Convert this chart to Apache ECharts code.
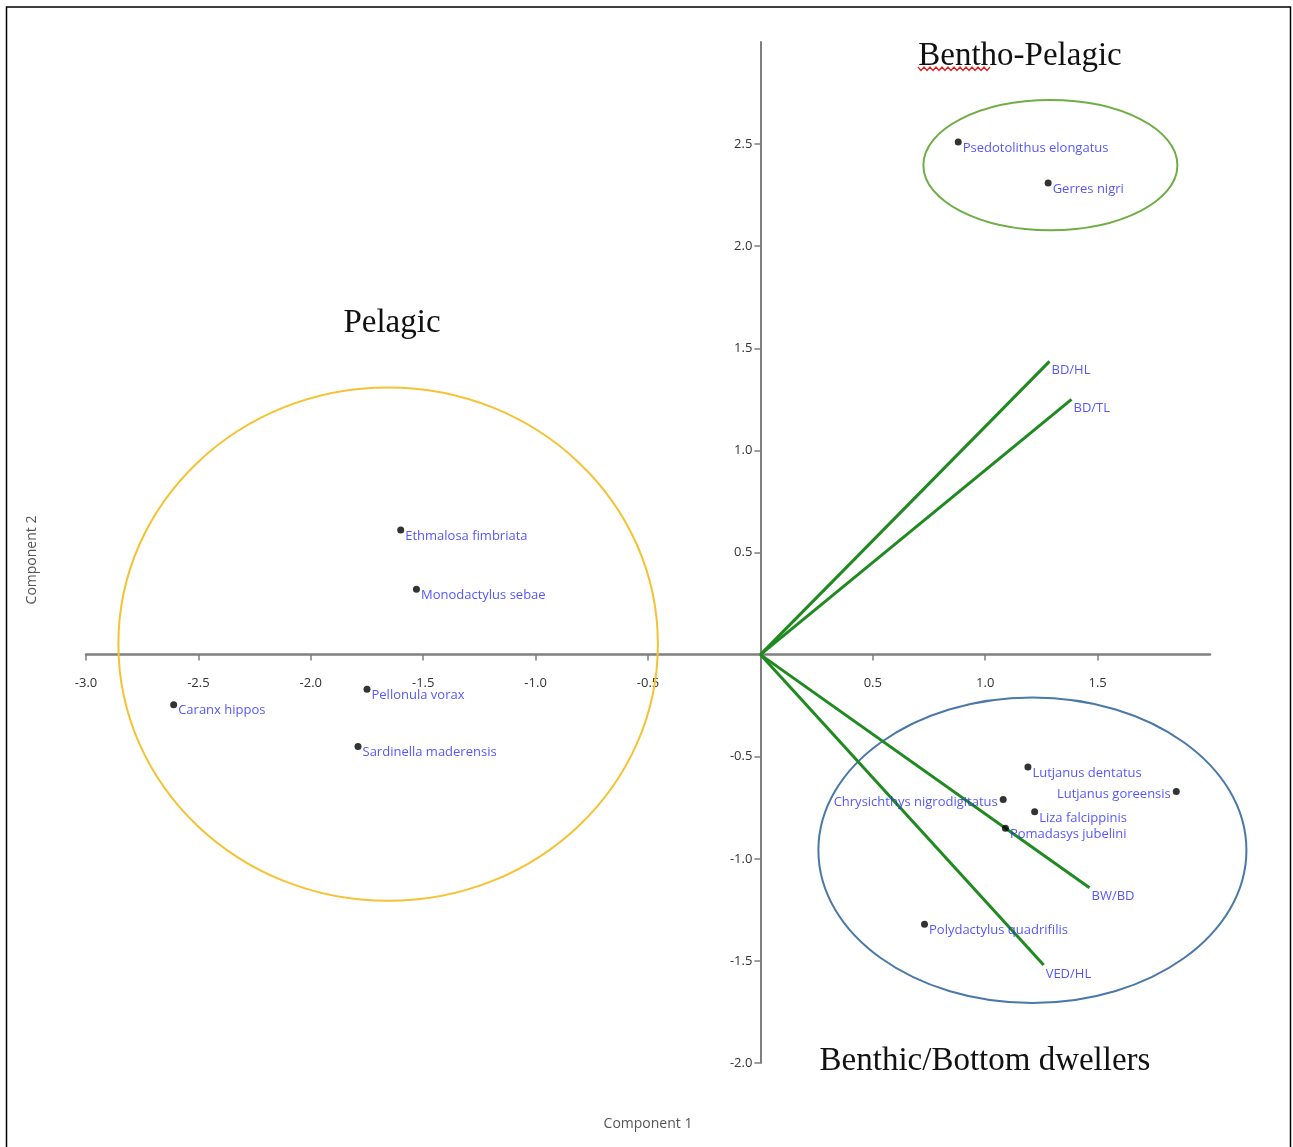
<!DOCTYPE html>
<html>
<head>
<meta charset="utf-8">
<style>
  html, body { margin: 0; padding: 0; background: #ffffff; }
  #chart { width: 1293px; height: 1147px; }
</style>
<script src="https://cdn.jsdelivr.net/npm/echarts@6/dist/echarts.min.js"></script>
</head>
<body>
<div id="chart"></div>
<script>
// Species scores on the first two principal components
const speciesNames = [
  'Psedotolithus elongatus', 'Gerres nigri',
  'Ethmalosa fimbriata', 'Monodactylus sebae', 'Pellonula vorax', 'Caranx hippos', 'Sardinella maderensis',
  'Lutjanus dentatus', 'Lutjanus goreensis', 'Chrysichthys nigrodigitatus', 'Liza falcippinis',
  'Pomadasys jubelini', 'Polydactylus quadrifilis'
];
const speciesPC1 = [0.88, 1.28, -1.60, -1.53, -1.75, -2.61, -1.79, 1.19, 1.85, 1.08, 1.22, 1.09, 0.73];
const speciesPC2 = [2.51, 2.31, 0.61, 0.32, -0.17, -0.245, -0.45, -0.55, -0.67, -0.71, -0.77, -0.85, -1.32];
const labelSide  = ['right', 'right', 'right', 'right', 'right', 'right', 'right', 'right', 'left', 'left', 'right', 'right', 'right'];

// Morphometric variable loadings (biplot vectors from the origin)
const variableNames = ['BD/HL', 'BD/TL', 'BW/BD', 'VED/HL'];
const variablePC1 = [1.286, 1.384, 1.464, 1.26];
const variablePC2 = [1.436, 1.25, -1.142, -1.52];

// Group ellipses: centre and semi-axes in component units
const groupNames = ['Pelagic', 'Bentho-Pelagic', 'Benthic/Bottom dwellers'];
const ellipseCX = [-1.656, 1.29, 1.21];
const ellipseCY = [0.051, 2.397, -0.958];
const ellipseRX = [1.20, 0.565, 0.952];
const ellipseRY = [1.257, 0.319, 0.748];
const ellipseColors = ['#f6c233', '#6fae47', '#4a78a8'];

// Axis ranges and labelled ticks
const xRange = [-3, 2];
const yRange = [-2, 3];
const tickStep = 0.5;
const xTickValues = [-3.0, -2.5, -2.0, -1.5, -1.0, -0.5, 0.5, 1.0, 1.5];
const yTickValues = [-2.0, -1.5, -1.0, -0.5, 0.5, 1.0, 1.5, 2.0, 2.5];

const labelFont = '"Open Sans", "Liberation Sans", sans-serif';
const tickFont = '"Open Sans", "Liberation Sans", sans-serif';

// Plot area (pixels)
const gridLeft = 86, gridRight = 83, gridTop = 42, gridBottom = 84;
const chartW = 1293, chartH = 1147;
const plotW = chartW - gridLeft - gridRight;
const plotH = chartH - gridTop - gridBottom;
// The axes cross at the origin: shift each axis from its grid edge to zero
const xAxisShift = -plotH * (0 - yRange[0]) / (yRange[1] - yRange[0]);
const yAxisShift = -plotW * (0 - xRange[0]) / (xRange[1] - xRange[0]);

const chart = echarts.init(document.getElementById('chart'), null, { renderer: 'canvas' });

const speciesData = speciesNames.map((n, i) => ({
  name: n,
  value: [speciesPC1[i], speciesPC2[i]],
  label: labelSide[i] === 'left'
    ? { position: 'left', distance: 2, offset: [0, 3] }
    : { position: 'right', distance: 1, offset: [0, 6] }
}));

const vectorLines = variableNames.map((n, i) => ({
  coords: [[0, 0], [variablePC1[i], variablePC2[i]]]
}));
const vectorEnds = variableNames.map((n, i) => ({
  name: n,
  value: [variablePC1[i], variablePC2[i]]
}));

const ellipseData = groupNames.map((n, i) => [ellipseCX[i], ellipseCY[i], ellipseRX[i], ellipseRY[i], i]);

const tickText = v => v.toFixed(1);

// Red wavy underline under the first word of the top title
const wavy = [];
for (let x = 918, k = 0; x <= 990; x += 3, k++) {
  wavy.push([x, k % 2 === 0 ? 67 : 70.5]);
}

chart.setOption({
  animation: false,
  backgroundColor: '#ffffff',
  grid: { left: gridLeft, right: gridRight, top: gridTop, bottom: gridBottom, containLabel: false },
  xAxis: {
    type: 'value',
    position: 'bottom',
    offset: xAxisShift,
    min: xRange[0], max: xRange[1], interval: tickStep,
    axisLine: { onZero: false, lineStyle: { color: '#7f7f7f', width: 2.5 } },
    axisTick: { show: true, length: 6, customValues: xTickValues, lineStyle: { color: '#7f7f7f', width: 1.5 } },
    axisLabel: {
      margin: 22, color: '#333', fontSize: 13, fontFamily: tickFont,
      customValues: xTickValues,
      formatter: tickText
    },
    splitLine: { show: false }
  },
  yAxis: {
    type: 'value',
    position: 'left',
    offset: yAxisShift,
    min: yRange[0], max: yRange[1], interval: tickStep,
    axisLine: { onZero: false, lineStyle: { color: '#7f7f7f', width: 2 } },
    axisTick: { show: true, length: 6, customValues: yTickValues, lineStyle: { color: '#7f7f7f', width: 1.5 } },
    axisLabel: {
      margin: 8, color: '#333', fontSize: 13, fontFamily: tickFont,
      customValues: yTickValues,
      formatter: tickText
    },
    splitLine: { show: false }
  },
  series: [
    {
      type: 'custom',
      name: 'groups',
      coordinateSystem: 'cartesian2d',
      clip: false,
      silent: true,
      encode: { x: 0, y: 1 },
      data: ellipseData,
      renderItem: function (params, api) {
        const c = api.coord([api.value(0), api.value(1)]);
        const s = api.size([api.value(2), api.value(3)]);
        return {
          type: 'ellipse',
          shape: { cx: c[0], cy: c[1], rx: s[0], ry: s[1] },
          style: { fill: 'none', stroke: ellipseColors[api.value(4)], lineWidth: 2 }
        };
      },
      z: 1
    },
    {
      type: 'lines',
      coordinateSystem: 'cartesian2d',
      silent: true,
      lineStyle: { color: '#1f8a1f', width: 3, opacity: 1 },
      data: vectorLines,
      z: 2
    },
    {
      type: 'scatter',
      name: 'variables',
      symbolSize: 0,
      silent: true,
      data: vectorEnds,
      label: {
        show: true, position: 'right', distance: 2, offset: [0, 9],
        formatter: '{b}', color: '#2a2aff', fontSize: 13, fontFamily: labelFont
      },
      z: 3
    },
    {
      type: 'scatter',
      name: 'species',
      symbol: 'circle',
      symbolSize: 7,
      itemStyle: { color: '#000000' },
      silent: true,
      data: speciesData,
      label: {
        show: true, formatter: '{b}', color: '#2a2aff', fontSize: 13, fontFamily: labelFont
      },
      z: 4
    }
  ],
  graphic: [
    {
      type: 'rect',
      shape: { x: 6.5, y: 7, width: 1284, height: 1145 },
      style: { fill: 'none', stroke: '#000', lineWidth: 1.5 },
      silent: true
    },
    {
      type: 'text', x: 1020, y: 56,
      style: { text: 'Bentho-Pelagic', font: '33px "Liberation Serif", "DejaVu Serif", serif', fill: '#111', textAlign: 'center', textVerticalAlign: 'middle' }
    },
    {
      type: 'polyline',
      shape: { points: wavy },
      style: { stroke: '#e02020', lineWidth: 1.2, fill: 'none' }
    },
    {
      type: 'text', x: 392, y: 323,
      style: { text: 'Pelagic', font: '33px "Liberation Serif", "DejaVu Serif", serif', fill: '#111', textAlign: 'center', textVerticalAlign: 'middle' }
    },
    {
      type: 'text', x: 985, y: 1061,
      style: { text: 'Benthic/Bottom dwellers', font: '33px "Liberation Serif", "DejaVu Serif", serif', fill: '#111', textAlign: 'center', textVerticalAlign: 'middle' }
    },
    {
      type: 'text', x: 648, y: 1124,
      style: { text: 'Component 1', font: '14px ' + tickFont, fill: '#555', textAlign: 'center', textVerticalAlign: 'middle' }
    },
    {
      type: 'text', x: 32, y: 560, rotation: Math.PI / 2,
      style: { text: 'Component 2', font: '14px ' + tickFont, fill: '#555', textAlign: 'center', textVerticalAlign: 'middle' }
    }
  ]
});
</script>
</body>
</html>
